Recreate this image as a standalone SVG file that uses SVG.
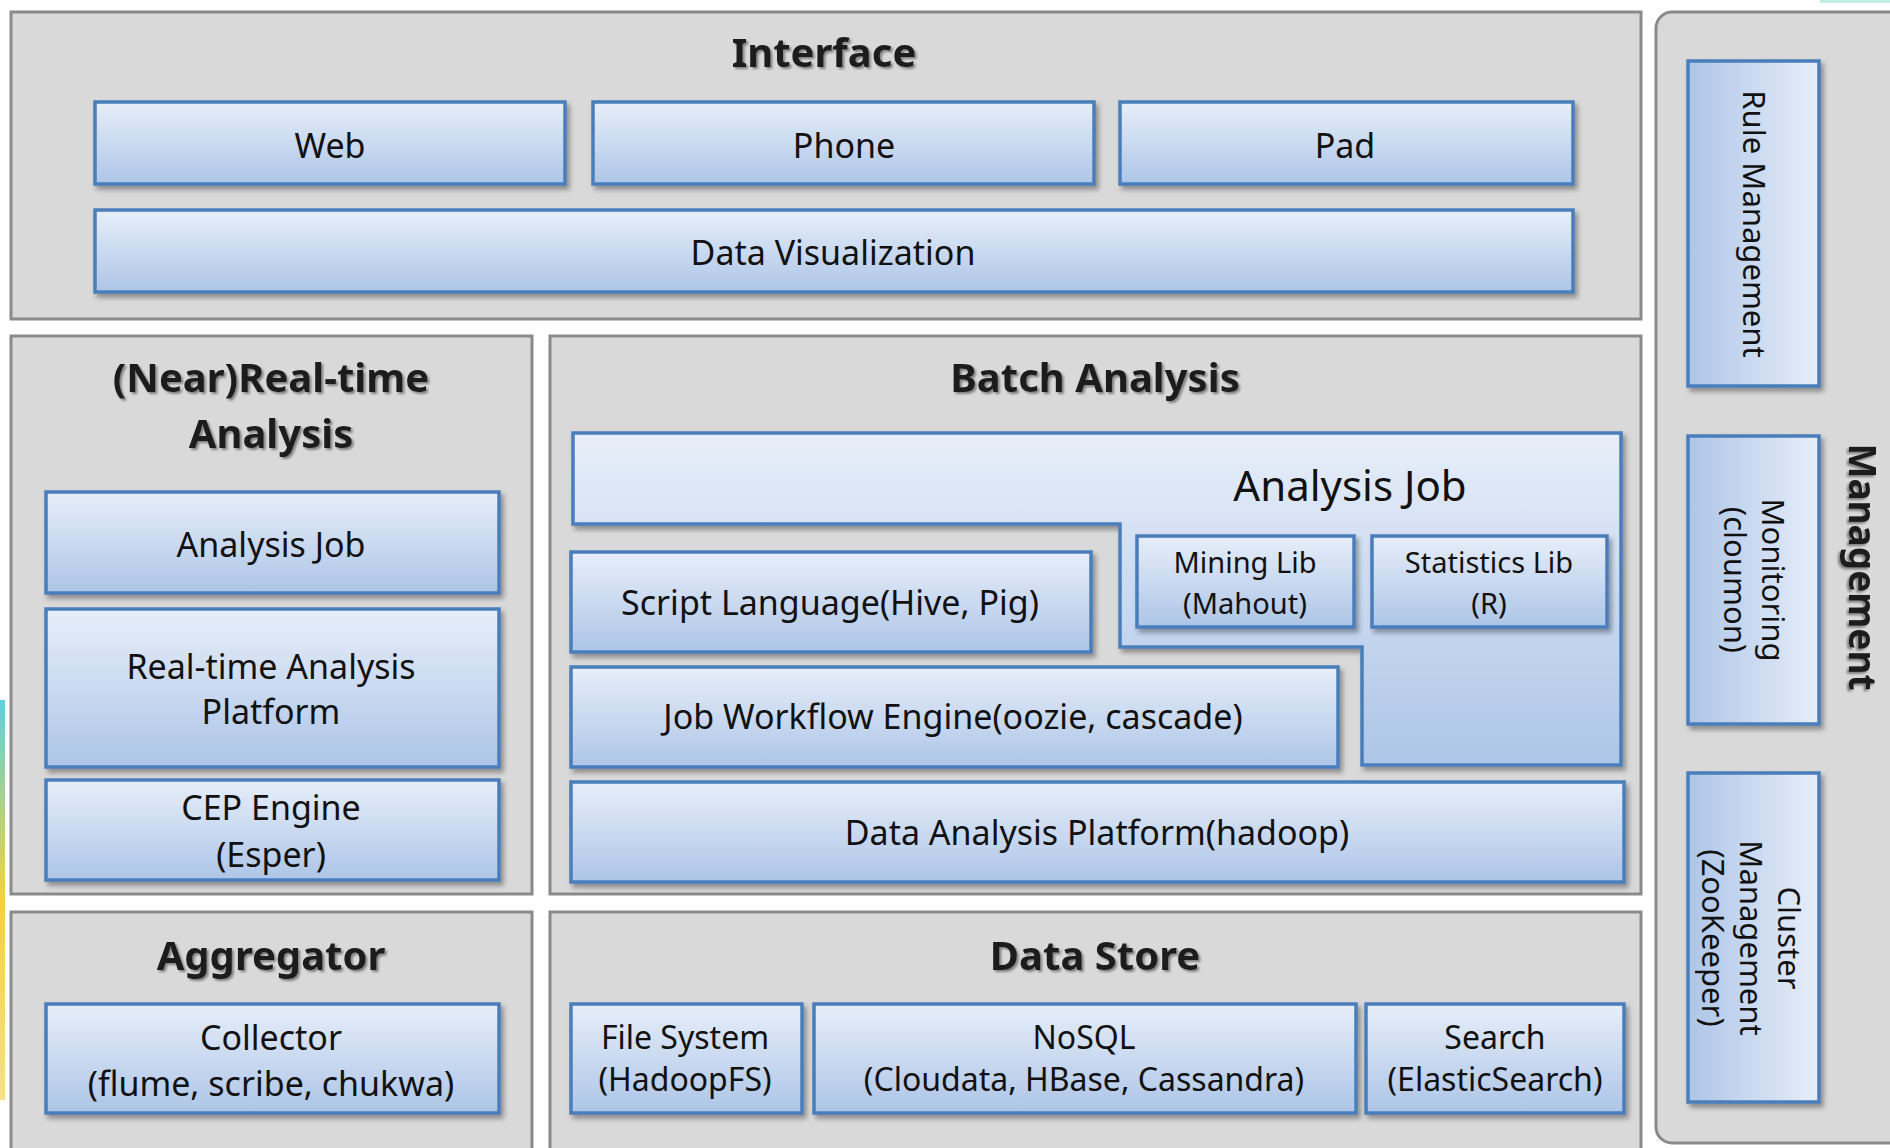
<svg xmlns="http://www.w3.org/2000/svg" width="1890" height="1148" viewBox="0 0 1890 1148">
<defs>
<linearGradient id="gv" x1="0" y1="0" x2="0" y2="1">
<stop offset="0" stop-color="#e7eef9"/><stop offset="1" stop-color="#adc5e7"/>
</linearGradient>
<linearGradient id="gh" x1="1" y1="0" x2="0" y2="0">
<stop offset="0" stop-color="#e7eef9"/><stop offset="1" stop-color="#adc5e7"/>
</linearGradient>
<linearGradient id="edge" x1="0" y1="0" x2="0" y2="1">
<stop offset="0" stop-color="#5fd0e0"/><stop offset="0.5" stop-color="#f3d23a"/><stop offset="1" stop-color="#f6e08a"/>
</linearGradient>
<filter id="sh" x="-5%" y="-10%" width="115%" height="130%">
<feDropShadow dx="3" dy="4" stdDeviation="2.5" flood-color="#000" flood-opacity="0.35"/>
</filter>
<filter id="tsh" x="-5%" y="-20%" width="115%" height="150%">
<feDropShadow dx="2" dy="2" stdDeviation="1" flood-color="#777" flood-opacity="0.9"/>
</filter>
<style>
.panel{fill:#d9d9d9;stroke:#8a8a8a;stroke-width:3}
.box{fill:url(#gv);stroke:#4a7ebb;stroke-width:3.5;filter:url(#sh)}
.vbox{fill:url(#gh);stroke:#4a7ebb;stroke-width:3.5;filter:url(#sh)}
.t{font-family:"Noto Sans","Open Sans",sans-serif;font-size:34px;fill:#111;text-anchor:middle}
.s{font-size:29px}
.d{font-size:32px}
.v{font-size:31px}
.big{font-size:42px}
.h{font-family:"Noto Sans","Open Sans",sans-serif;font-size:40px;font-weight:bold;fill:#1a1a1a;text-anchor:middle;filter:url(#tsh)}
</style>
</defs>
<rect width="1890" height="1148" fill="#ffffff"/>
<rect x="0" y="700" width="5" height="400" fill="url(#edge)"/>
<rect x="1820" y="0" width="70" height="3" fill="#bfeedd"/>

<g id="interface">
<rect class="panel" x="11" y="12" width="1630" height="307"/>
<text class="h" x="824" y="67">Interface</text>
</g>
<g id="web"><rect class="box" x="95" y="102" width="470" height="82"/><text class="t" x="330" y="158">Web</text></g>
<g id="phone"><rect class="box" x="593" y="102" width="501" height="82"/><text class="t" x="844" y="158">Phone</text></g>
<g id="pad"><rect class="box" x="1120" y="102" width="453" height="82"/><text class="t" x="1345" y="158">Pad</text></g>
<g id="data-visualization"><rect class="box" x="95" y="210" width="1478" height="82"/><text class="t" x="833" y="265">Data Visualization</text></g>

<g id="realtime">
<rect class="panel" x="11" y="336" width="521" height="558"/>
<text class="h" x="271" y="392">(Near)Real-time</text>
<text class="h" x="271" y="448">Analysis</text>
</g>
<g id="rt-analysis-job"><rect class="box" x="46" y="492" width="453" height="101"/><text class="t" x="271" y="557">Analysis Job</text></g>
<g id="rt-platform"><rect class="box" x="46" y="609" width="453" height="158"/><text class="t" x="271" y="679">Real-time Analysis</text><text class="t" x="271" y="724">Platform</text></g>
<g id="cep-engine"><rect class="box" x="46" y="780" width="453" height="100"/><text class="t" x="271" y="820">CEP Engine</text><text class="t" x="271" y="867">(Esper)</text></g>

<g id="batch">
<rect class="panel" x="550" y="336" width="1091" height="558"/>
<text class="h" x="1095" y="392">Batch Analysis</text>
</g>
<g id="batch-analysis-job">
<path class="box" d="M573,433 H1621 V765 H1362 V647 H1120 V524 H573 Z"/>
<text class="t big" x="1350" y="501">Analysis Job</text>
</g>
<g id="mining-lib"><rect class="box" x="1137" y="536" width="217" height="91"/><text class="t s" x="1245" y="573">Mining Lib</text><text class="t s" x="1245" y="614">(Mahout)</text></g>
<g id="statistics-lib"><rect class="box" x="1372" y="536" width="235" height="91"/><text class="t s" x="1489" y="573">Statistics Lib</text><text class="t s" x="1489" y="614">(R)</text></g>
<g id="script-language"><rect class="box" x="571" y="552" width="520" height="100"/><text class="t" x="830" y="615">Script Language(Hive, Pig)</text></g>
<g id="job-workflow"><rect class="box" x="571" y="667" width="767" height="100"/><text class="t" x="953" y="729">Job Workflow Engine(oozie, cascade)</text></g>
<g id="data-analysis-platform"><rect class="box" x="571" y="782" width="1053" height="100"/><text class="t" x="1097" y="845">Data Analysis Platform(hadoop)</text></g>

<g id="aggregator">
<rect class="panel" x="11" y="912" width="521" height="250"/>
<text class="h" x="271" y="970">Aggregator</text>
</g>
<g id="collector"><rect class="box" x="46" y="1004" width="453" height="109"/><text class="t" x="271" y="1050">Collector</text><text class="t" x="271" y="1096">(flume, scribe, chukwa)</text></g>

<g id="data-store">
<rect class="panel" x="550" y="912" width="1091" height="250"/>
<text class="h" x="1095" y="970">Data Store</text>
</g>
<g id="file-system"><rect class="box" x="571" y="1004" width="231" height="109"/><text class="t d" x="685" y="1049">File System</text><text class="t d" x="685" y="1091">(HadoopFS)</text></g>
<g id="nosql"><rect class="box" x="814" y="1004" width="542" height="109"/><text class="t d" x="1084" y="1049">NoSQL</text><text class="t d" x="1084" y="1091">(Cloudata, HBase, Cassandra)</text></g>
<g id="search"><rect class="box" x="1366" y="1004" width="258" height="109"/><text class="t d" x="1495" y="1049">Search</text><text class="t d" x="1495" y="1091">(ElasticSearch)</text></g>

<g id="management">
<rect class="panel" x="1656" y="12" width="260" height="1131" rx="16"/>
<text class="h" style="font-size:37px" transform="translate(1862,567) rotate(90)" x="0" y="13">Management</text>
</g>
<g id="rule-management"><rect class="vbox" x="1688" y="61" width="131" height="325"/><text class="t v" transform="translate(1754,224) rotate(90)" x="0" y="11">Rule Management</text></g>
<g id="monitoring"><rect class="vbox" x="1688" y="436" width="131" height="288"/><text class="t v" transform="translate(1754,580) rotate(90)" x="0" y="-8">Monitoring</text><text class="t v" transform="translate(1754,580) rotate(90)" x="0" y="30">(cloumon)</text></g>
<g id="cluster-management"><rect class="vbox" x="1688" y="773" width="131" height="329"/><text class="t v" transform="translate(1751,938) rotate(90)" x="0" y="-27">Cluster</text><text class="t v" transform="translate(1751,938) rotate(90)" x="0" y="11">Management</text><text class="t v" transform="translate(1751,938) rotate(90)" x="0" y="49">(ZooKeeper)</text></g>

<g id="connectors"></g>
</svg>
